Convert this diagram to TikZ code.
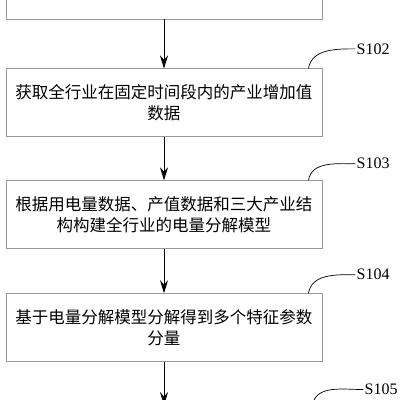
\documentclass[tikz,border=0pt]{standalone}
\usepackage{fontspec}
\setmainfont{Liberation Serif}
\newfontfamily\cjk{Noto Sans CJK SC}
\usetikzlibrary{positioning,arrows.meta}

\begin{document}
\begin{tikzpicture}[x=1pt,y=1pt]
\tikzset{
  stepbox/.style={draw=black!40,line width=0.9pt,minimum width=316pt,minimum height=68pt,inner sep=0pt,align=center,font=\cjk\fontsize{16.5}{21}\selectfont},
  steplabel/.style={font=\fontsize{16}{18}\selectfont,inner sep=1pt},
  flow/.style={-{Stealth[length=13pt,width=8pt]},line width=0.9pt},
  tag/.style={line width=0.7pt,out=80,in=180}
}
\useasboundingbox[fill=white] (0,0) rectangle (400,-400);

% steps
\node[stepbox] (s101) at (164,15) {};
\node[stepbox,below=49pt of s101] (s102) {获取全行业在固定时间段内的产业增加值\\数据};
\node[stepbox,below=43pt of s102] (s103) {根据用电量数据、产值数据和三大产业结\\构构建全行业的电量分解模型};
\node[stepbox,below=44pt of s103] (s104) {基于电量分解模型分解得到多个特征参数\\分量};
\node[stepbox,below=43pt of s104] (s105) {};

\foreach \a/\b in {s101/s102,s102/s103,s103/s104,s104/s105}
  \draw[flow] (\a) -- (\b);

% step labels
\node[steplabel,above right=13pt and 33pt of s102.north east] (l102) {S102};
\node[steplabel,above right=10pt and 33pt of s103.north east] (l103) {S103};
\node[steplabel,above right=12pt and 33pt of s104.north east] (l104) {S104};
\node[steplabel,above right=9pt and 41pt of s105.north east] (l105) {S105};

\foreach \n in {102,103,104}
  \draw[tag] ([xshift=-14pt]s\n.north east) to (l\n.west);
\draw[tag] ([xshift=-10pt]s105.north east) to (l105.west);
\end{tikzpicture}
\end{document}
